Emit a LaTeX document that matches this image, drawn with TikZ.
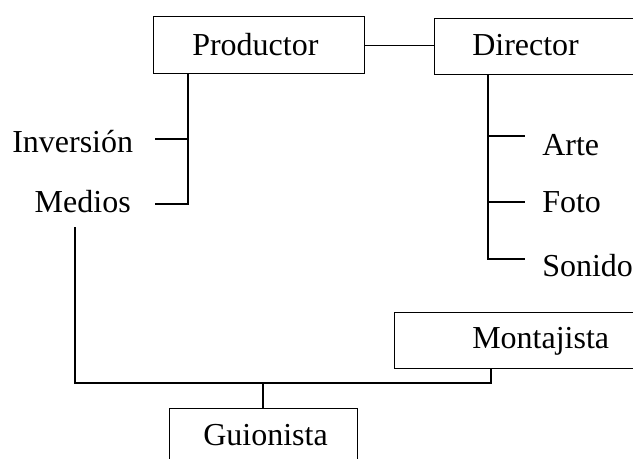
\documentclass[tikz,border=0pt]{standalone}
\usepackage{fontspec}
\setmainfont{Liberation Serif}
\begin{document}
\begin{tikzpicture}[x=0.75pt,y=-0.75pt,
  box/.style={draw, line width=0.9pt, inner sep=0pt, anchor=north west},
  lbl/.style={inner sep=0pt, font=\fontsize{24}{28}\selectfont},
  conn/.style={line width=0.9pt}]
\useasboundingbox (0,0) rectangle (633,458);
\clip (0,0) rectangle (633,458);
% boxes
\node[box, minimum width=211*0.75pt, minimum height=57*0.75pt] (prod) at (153,16) {};
\node[box, minimum width=240*0.75pt, minimum height=56*0.75pt] (dir) at (434,18) {};
\node[box, minimum width=260*0.75pt, minimum height=56*0.75pt] (mont) at (394,312) {};
\node[box, minimum width=188*0.75pt, minimum height=80*0.75pt] (guion) at (169,408) {};
% texts
\node[lbl, anchor=base west] (tprod) at (192,55) {Productor};
\node[lbl, anchor=base west] (tdir) at (472,55) {Director};
\node[lbl, anchor=base west] (inv) at (12,152) {Inversión};
\node[lbl, anchor=base east] (med) at (131,212) {Medios};
\node[lbl, anchor=base west] (arte) at (542,155) {Arte};
\node[lbl, anchor=base west] (foto) at (542,212) {Foto};
\node[lbl, anchor=base west] (son) at (542,276) {Sonido};
\node[lbl, anchor=base west] (tmont) at (472,348) {Montajista};
\node[lbl, anchor=base west] (tguion) at (203,445) {Guionista};
% connector end points
\coordinate (pv) at (188,73);
\coordinate (invT) at (155,139);
\coordinate (medT) at (155,204);
\coordinate (dv) at (488,74);
\coordinate (arteT) at (525,136);
\coordinate (fotoT) at (525,202);
\coordinate (sonT) at (525,259);
\coordinate (medV) at (75,227);
\coordinate (bus) at (75,383);
\coordinate (montV) at (491,368);
\coordinate (guionV) at (263,408);
% connectors
\draw[conn] (prod.east) -- (prod.east -| dir.west);
\draw[conn] (pv) |- (invT);
\draw[conn] (pv) |- (medT);
\draw[conn] (dv) |- (arteT);
\draw[conn] (dv) |- (fotoT);
\draw[conn] (dv) |- (sonT);
\draw[conn] (medV) -- (bus) -| (montV);
\draw[conn] (guionV) -- (guionV |- bus);
\end{tikzpicture}
\end{document}
